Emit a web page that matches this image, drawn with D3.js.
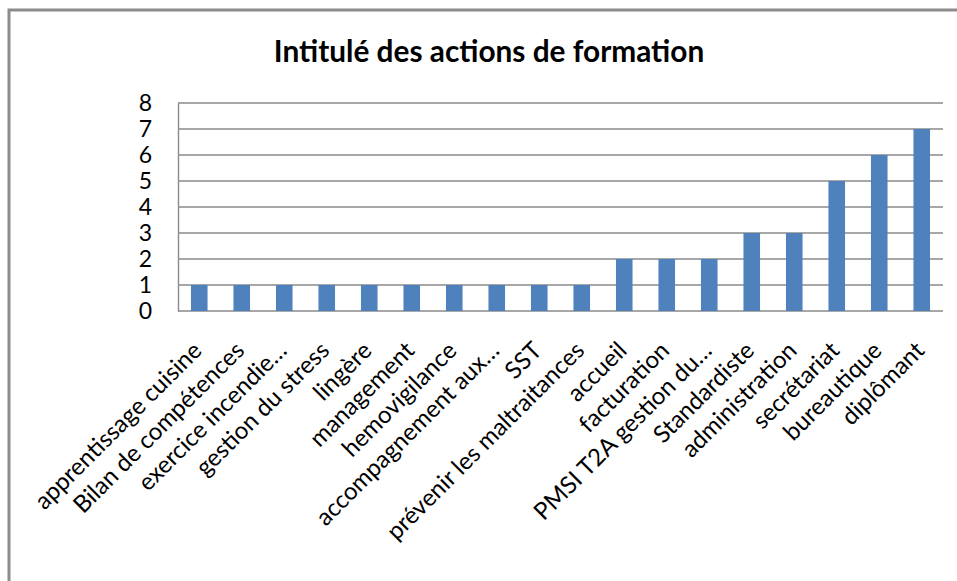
<!DOCTYPE html>
<html>
<head>
<meta charset="utf-8">
<script src="https://cdn.jsdelivr.net/npm/d3@7"></script>
<style>
  body { margin: 0; background: #fff; }
  #chart text { font-family: Lato, "Open Sans", sans-serif; fill: #000; }
</style>
</head>
<body>
<div id="chart"></div>
<script>
// data
const CATEGORIES = [
  'apprentissage cuisine', 'Bilan de compétences', 'exercice incendie…',
  'gestion du stress', 'lingère', 'management', 'hemovigilance',
  'accompagnement aux…', 'SST', 'prévenir les maltraitances', 'accueil',
  'facturation', 'PMSI T2A gestion du…', 'Standardiste', 'administration',
  'secrétariat', 'bureautique', 'diplômant'
];
const VALUES = [1, 1, 1, 1, 1, 1, 1, 1, 1, 1, 2, 2, 2, 3, 3, 5, 6, 7];
const Y_TICKS = [0, 1, 2, 3, 4, 5, 6, 7, 8];
const TITLE = 'Intitulé des actions de formation';

const width = 957;
const height = 581;
const plot = { left: 178, right: 943, top: 103, bottom: 311 };

const svg = d3.select('#chart').append('svg')
  .attr('width', width)
  .attr('height', height);

// outer frame (runs off the right and bottom edges like the screenshot)
svg.append('rect')
  .attr('x', 9).attr('y', 10)
  .attr('width', width + 20).attr('height', height + 20)
  .attr('fill', '#fff')
  .attr('stroke', '#8c8c8c')
  .attr('stroke-width', 3);

svg.append('text')
  .attr('x', 489).attr('y', 62)
  .attr('text-anchor', 'middle')
  .style('font-size', '29.8px')
  .style('font-weight', 'bold')
  .text(TITLE);

const x = d3.scaleBand()
  .domain(CATEGORIES)
  .range([plot.left, plot.right])
  .paddingInner(0.61)
  .paddingOuter(0.305);

const y = d3.scaleLinear()
  .domain([0, 8])
  .range([plot.bottom, plot.top]);

// gridlines
svg.append('g')
  .selectAll('line')
  .data(Y_TICKS)
  .enter()
  .append('line')
  .attr('x1', plot.left).attr('x2', plot.right)
  .attr('y1', d => y(d)).attr('y2', d => y(d))
  .attr('stroke', '#8a8a8a')
  .attr('stroke-width', 1.4);

// y axis
const yAxis = svg.append('g')
  .attr('transform', `translate(${plot.left},0)`)
  .call(d3.axisLeft(y).tickValues(Y_TICKS).tickSize(0).tickPadding(26));
yAxis.select('.domain').attr('stroke', '#8a8a8a').attr('stroke-width', 1.4);
yAxis.selectAll('text').style('font-size', '23px');

// bars
svg.append('g')
  .selectAll('rect')
  .data(VALUES)
  .enter()
  .append('rect')
  .attr('x', (d, i) => x(CATEGORIES[i]))
  .attr('y', d => y(d))
  .attr('width', x.bandwidth())
  .attr('height', d => y(0) - y(d))
  .attr('fill', '#4f81bd');

// category labels, rotated
svg.append('g')
  .selectAll('text')
  .data(CATEGORIES)
  .enter()
  .append('text')
  .attr('transform', d => `translate(${x(d) + x.bandwidth() / 2 + 4},352) rotate(-45)`)
  .attr('text-anchor', 'end')
  .style('font-size', '24px')
  .text(d => d);
</script>
</body>
</html>
